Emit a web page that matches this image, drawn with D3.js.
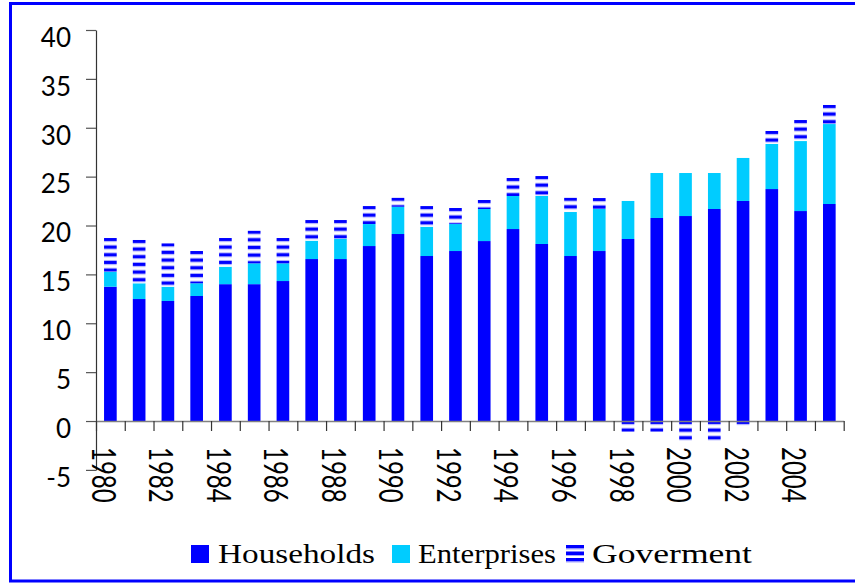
<!DOCTYPE html>
<html>
<head>
<meta charset="utf-8">
<script src="https://cdn.jsdelivr.net/npm/d3@7"></script>
<style>
  html, body { margin: 0; padding: 0; background: #fff; }
  svg { display: block; }
</style>
</head>
<body>
<svg id="chart" width="855" height="583"></svg>
<script>
// Financial balance by sector, 1980-2005
const years = [1980, 1981, 1982, 1983, 1984, 1985, 1986, 1987, 1988, 1989,
               1990, 1991, 1992, 1993, 1994, 1995, 1996, 1997, 1998, 1999,
               2000, 2001, 2002, 2003, 2004, 2005];
const households = [13.74, 12.48, 12.28, 12.79, 14.0, 14.0, 14.32, 16.57, 16.57, 17.9,
                    19.13, 16.88, 17.39, 18.41, 19.64, 18.11, 16.88, 17.39, 18.62, 20.77,
                    20.97, 21.69, 22.51, 23.73, 21.48, 22.2];
const enterprises = [1.53, 1.61, 1.46, 1.3, 1.79, 2.13, 1.81, 1.88, 2.08, 2.25,
                     2.79, 3.0, 2.76, 3.28, 3.38, 4.91, 4.5, 4.3, 3.89, 4.6,
                     4.4, 3.68, 4.4, 4.61, 7.16, 8.18];
const government = [3.45, 4.43, 4.44, 3.3, 2.93, 3.34, 2.59, 2.11, 1.91, 1.84,
                    0.92, 2.11, 1.64, 0.92, 1.84, 2.04, 1.46, 1.12, -1.1, -1.1,
                    -2.05, -2.05, -0.5, 1.33, 2.15, 1.95];
const yTicks = [-5, 0, 5, 10, 15, 20, 25, 30, 35, 40];
const xLabelYears = [1980, 1982, 1984, 1986, 1988, 1990, 1992, 1994, 1996, 1998, 2000, 2002, 2004];
const seriesNames = ["Households", "Enterprises", "Goverment"];

const BLUE = "#0000ff", CYAN = "#00ccff", PALE = "#a8a8ff";

const svg = d3.select("#chart");
const defs = svg.append("defs");

// outer frame
svg.append("rect")
  .attr("x", 10.5).attr("y", 3.5).attr("width", 860).attr("height", 577.5)
  .attr("fill", "none").attr("stroke", BLUE).attr("stroke-width", 3);

const left = 96, right = 843.7;
const y = d3.scaleLinear().domain([-5, 40]).range([469.9, 30]);
const pad = 0.56;
const x = d3.scaleBand().domain(years).range([left, right])
  .paddingInner(pad).paddingOuter(pad / 2);
const step = x.step();
const bw = x.bandwidth();

// stacked rows
const rows = years.map((yr, i) => {
  const h = households[i], e = enterprises[i], g = government[i];
  return {
    year: yr, i,
    h0: 0, h1: h,
    e0: h, e1: h + e,
    g0: g >= 0 ? h + e : 0,
    g1: g >= 0 ? h + e + g : g
  };
});

// horizontal stripe pattern for government, anchored at each bar's top
function stripePattern(id, top) {
  const p = defs.append("pattern")
    .attr("id", id).attr("patternUnits", "userSpaceOnUse")
    .attr("x", 0).attr("y", top).attr("width", 20).attr("height", 7.67);
  p.append("rect").attr("width", 20).attr("height", 7.67).attr("fill", "#fff");
  p.append("rect").attr("y", 0).attr("width", 20).attr("height", 3).attr("fill", BLUE);
  p.append("rect").attr("y", 3).attr("width", 20).attr("height", 1).attr("fill", PALE);
  p.append("rect").attr("y", 6.67).attr("width", 20).attr("height", 1).attr("fill", PALE);
}

const plot = svg.append("g");

plot.selectAll("rect.hh").data(rows).join("rect")
  .attr("class", "hh")
  .attr("x", d => x(d.year)).attr("width", bw)
  .attr("y", d => y(d.h1)).attr("height", d => y(d.h0) - y(d.h1))
  .attr("fill", BLUE);

plot.selectAll("rect.ent").data(rows).join("rect")
  .attr("class", "ent")
  .attr("x", d => x(d.year)).attr("width", bw)
  .attr("y", d => y(d.e1)).attr("height", d => y(d.e0) - y(d.e1))
  .attr("fill", CYAN);

rows.forEach(d => {
  const top = y(Math.max(d.g0, d.g1));
  stripePattern("gov-" + d.i, top);
});
plot.selectAll("rect.gov").data(rows).join("rect")
  .attr("class", "gov")
  .attr("x", d => x(d.year)).attr("width", bw)
  .attr("y", d => y(Math.max(d.g0, d.g1)))
  .attr("height", d => Math.abs(y(d.g0) - y(d.g1)))
  .attr("fill", d => "url(#gov-" + d.i + ")");

// y axis
const yAxis = svg.append("g")
  .attr("transform", `translate(${left},0)`)
  .call(d3.axisLeft(y).tickValues(yTicks).tickSize(10).tickSizeOuter(0).tickPadding(15)
    .tickFormat(d => String(d)));
yAxis.select(".domain").attr("stroke", "#333").attr("stroke-width", 1.2);
yAxis.selectAll(".tick line").attr("stroke", "#555").attr("stroke-width", 1.2);
yAxis.selectAll(".tick text")
  .attr("transform", "translate(0,8)")
  .attr("font-family", "Lato, 'Open Sans', sans-serif")
  .attr("font-size", 26).attr("fill", "#000");

// x axis: ticks on category boundaries
const xb = d3.scaleLinear().domain([0, years.length]).range([left, left + step * years.length]);
const xAxis = svg.append("g")
  .attr("transform", `translate(0,${y(0)})`)
  .call(d3.axisBottom(xb).tickValues(d3.range(0, years.length + 1)).tickSize(10)
    .tickSizeOuter(0).tickFormat(""));
xAxis.select(".domain").attr("stroke", "#808080").attr("stroke-width", 1.6);
xAxis.selectAll(".tick line").attr("stroke", "#333").attr("stroke-width", 1.2);

// rotated year labels
svg.append("g").selectAll("text").data(xLabelYears).join("text")
  .attr("transform", d => `translate(${x(d) + bw / 2 - 6},447) scale(1.35,1) rotate(90)`)
  .attr("text-anchor", "start")
  .attr("dominant-baseline", "central")
  .attr("font-family", "Lato, 'Open Sans', sans-serif")
  .attr("font-size", 24).attr("fill", "#000")
  .text(d => d);

// legend
const legend = svg.append("g");
const legendItems = [
  { name: seriesNames[0], sx: 191, tx: 218, tw: 157 },
  { name: seriesNames[1], sx: 392, tx: 418, tw: 138 },
  { name: seriesNames[2], sx: 566, tx: 592, tw: 160 }
];
const ly = 545, ls = 18;
legendItems.forEach((it, k) => {
  if (k === 0) {
    legend.append("rect").attr("x", it.sx).attr("y", ly).attr("width", ls).attr("height", ls).attr("fill", BLUE);
  } else if (k === 1) {
    legend.append("rect").attr("x", it.sx).attr("y", ly).attr("width", ls).attr("height", ls).attr("fill", CYAN);
  } else {
    [0, 6.5, 13].forEach(off => {
      legend.append("rect").attr("x", it.sx).attr("y", ly + off).attr("width", ls).attr("height", 3.5).attr("fill", BLUE);
      legend.append("rect").attr("x", it.sx).attr("y", ly + off + 3.5).attr("width", ls).attr("height", 1).attr("fill", PALE);
    });
  }
  legend.append("text")
    .attr("x", it.tx).attr("y", 563)
    .attr("font-family", "'Liberation Serif', 'DejaVu Serif', serif")
    .attr("font-size", 27).attr("fill", "#000")
    .attr("textLength", it.tw).attr("lengthAdjust", "spacingAndGlyphs")
    .text(it.name);
});
</script>
</body>
</html>
